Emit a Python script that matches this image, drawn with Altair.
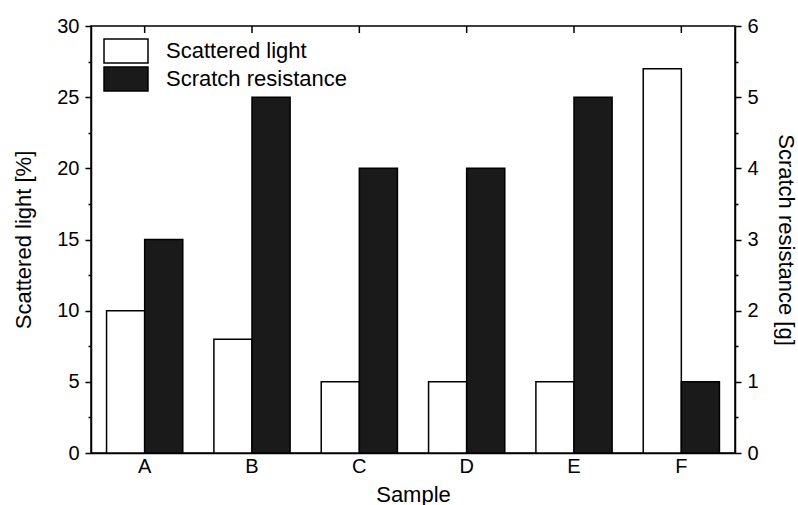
import altair as alt
import pandas as pd

categories = ["A", "B", "C", "D", "E", "F"]
scattered_light = [10, 8, 5, 5, 5, 27]
scratch_resistance = [3, 5, 4, 4, 5, 1]
series_names = ["Scattered light", "Scratch resistance"]
left_ticks = [0, 2.5, 5, 7.5, 10, 12.5, 15, 17.5, 20, 22.5, 25, 27.5, 30]
right_ticks = [0, 0.5, 1, 1.5, 2, 2.5, 3, 3.5, 4, 4.5, 5, 5.5, 6]

df1 = pd.DataFrame({"Sample": categories, "value": scattered_light, "series": series_names[0]})
df2 = pd.DataFrame({"Sample": categories, "value": scratch_resistance, "series": series_names[1]})

FONT = "Liberation Sans"

x_enc = alt.X(
    "Sample:N", sort=categories,
    scale=alt.Scale(paddingInner=0.29, paddingOuter=0.145),
    axis=alt.Axis(title="Sample", labelAngle=0, ticks=False, labelPadding=3, titlePadding=8),
)
xoff = alt.XOffset("series:N", scale=alt.Scale(domain=series_names, paddingInner=0, paddingOuter=0))
color = alt.Color(
    "series:N",
    scale=alt.Scale(domain=series_names, range=["#ffffff", "#1a1a1a"]),
    legend=alt.Legend(
        title=None, orient="none", legendX=13, legendY=12,
        symbolType="M-1.833,-1L1.833,-1L1.833,1L-1.833,1Z", symbolSize=576,
        symbolOffset=9,
        symbolStrokeColor="black", symbolStrokeWidth=1.5,
        labelFont=FONT, labelFontSize=22, labelColor="black", labelOffset=27,
        labelLimit=0, rowPadding=-4,
    ),
)

left_dash = {"condition": {"test": "datum.value % 5 === 0", "value": [1, 0]}, "value": [3, 20]}
right_dash = {"condition": {"test": "datum.value % 1 === 0", "value": [1, 0]}, "value": [3, 20]}

bars1 = alt.Chart(df1).mark_bar(stroke="black", strokeWidth=1.5).encode(
    x=x_enc, xOffset=xoff, color=color,
    y=alt.Y("value:Q", scale=alt.Scale(domain=[0, 30], nice=False),
            axis=alt.Axis(title="Scattered light [%]", orient="left", values=left_ticks,
                          labelExpr="datum.value % 5 === 0 ? format(datum.value, 'd') : ''",
                          tickDash=left_dash,
                          tickSize=6, labelPadding=6, titlePadding=21)),
)
bars2 = alt.Chart(df2).mark_bar(stroke="black", strokeWidth=1.5).encode(
    x=x_enc, xOffset=xoff, color=color,
    y=alt.Y("value:Q", scale=alt.Scale(domain=[0, 6], nice=False),
            axis=alt.Axis(title="Scratch resistance [g]", orient="right", values=right_ticks,
                          labelExpr="datum.value % 1 === 0 ? format(datum.value, 'd') : ''",
                          tickDash=right_dash,
                          tickSize=6, labelPadding=6, titlePadding=15)),
)
top_ticks = alt.Chart(df1).mark_rule(color="black", strokeWidth=1.5).encode(
    x=alt.X("Sample:N", sort=categories), y=alt.value(0), y2=alt.value(7)
)

chart = alt.layer(bars1, bars2, top_ticks).resolve_scale(y="independent").properties(
    width=644, height=427,
    autosize=alt.AutoSizeParams(type="none"),
    padding={"left": 91, "top": 26, "right": 63, "bottom": 52},
).configure_view(stroke="black", strokeWidth=1.5).configure_axis(
    domainColor="black", domainWidth=1.5, tickColor="black", tickWidth=1.5,
    labelFont=FONT, labelFontSize=20, labelColor="black",
    titleFont=FONT, titleFontSize=22, titleFontWeight="normal", titleColor="black",
    grid=False,
)

chart.save("out.html", embed_options={"renderer": "svg", "actions": False})
